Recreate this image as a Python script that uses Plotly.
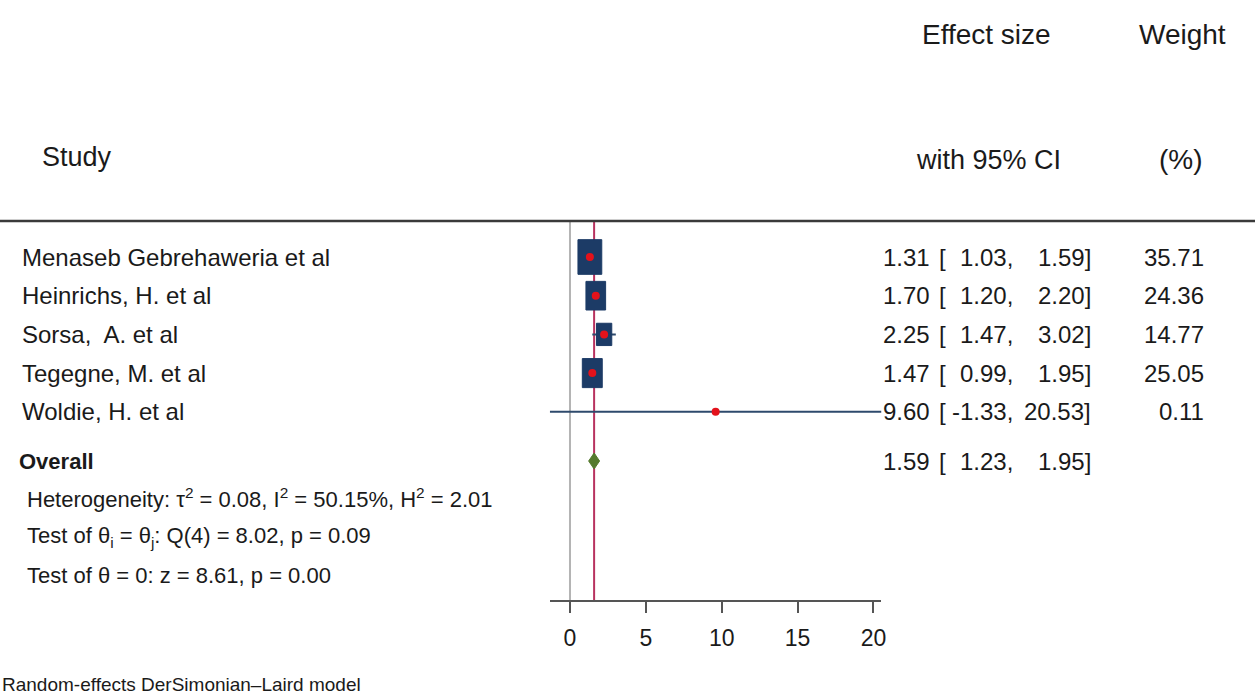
import plotly.graph_objects as go

# ---------------- data ----------------
studies = ["Menaseb Gebrehaweria et al", "Heinrichs, H. et al", "Sorsa,  A. et al",
           "Tegegne, M. et al", "Woldie, H. et al"]
es = [1.31, 1.70, 2.25, 1.47, 9.60]
lo = [1.03, 1.20, 1.47, 0.99, -1.33]
hi = [1.59, 2.20, 3.02, 1.95, 20.53]
weights = [35.71, 24.36, 14.77, 25.05, 0.11]
overall_es, overall_lo, overall_hi = 1.59, 1.23, 1.95
xticks = [0, 5, 10, 15, 20]
het_lines = ["Heterogeneity: τ<sup>2</sup> = 0.08, I<sup>2</sup> = 50.15%, H<sup>2</sup> = 2.01",
             "Test of θ<sub>i</sub> = θ<sub>j</sub>: Q(4) = 8.02, p = 0.09",
             "Test of θ = 0: z = 8.61, p = 0.00"]
note = "Random-effects DerSimonian–Laird model"

# ---------------- layout helpers ----------------
W, H = 1260, 700
FONT = "Liberation Sans, Arial, sans-serif"
TXT = "#1a1a1a"
BODY = 24
HEAD = 28
row_y0, row_dy = 257, 38.7
row_y = [row_y0 + row_dy * i for i in range(len(studies))]
overall_y = 461
axis_y = 600
xmin, xmax = min(lo), max(hi)
px_l, px_r = 552, 885
px_per_unit = (px_r - px_l) / (xmax - xmin)

def px(x):
    return x / W

def py(y):
    return 1 - y / H

fig = go.Figure()

# CI lines
cx, cy = [], []
for l, h, y in zip(lo, hi, row_y):
    cx += [l, h, None]
    cy += [y, y, None]
fig.add_trace(go.Scatter(x=cx, y=cy, mode="lines", line=dict(color="#2e4a6c", width=2),
                         hoverinfo="skip", showlegend=False))

# weight boxes (size ~ sqrt(weight))
bx, by = [], []
for e, w, y in zip(es, weights, row_y):
    hw = 2.0 * w ** 0.5 / px_per_unit
    hh = 2.9 * w ** 0.5
    bx += [e - hw, e + hw, e + hw, e - hw, e - hw, None]
    by += [y - hh, y - hh, y + hh, y + hh, y - hh, None]
fig.add_trace(go.Scatter(x=bx, y=by, mode="lines", fill="toself", fillcolor="#1c3b66",
                         line=dict(color="#1c3b66", width=1), hoverinfo="skip", showlegend=False))

# point estimates
fig.add_trace(go.Scatter(x=es, y=row_y, mode="markers",
                         marker=dict(color="#e3121b", size=8, line=dict(width=0)),
                         showlegend=False))

# overall diamond
dh = 8
fig.add_trace(go.Scatter(x=[overall_lo, overall_es, overall_hi, overall_es, overall_lo],
                         y=[overall_y, overall_y - dh, overall_y, overall_y + dh, overall_y],
                         mode="lines", fill="toself", fillcolor="#557a2e",
                         line=dict(color="#557a2e", width=1), showlegend=False))

# reference lines
fig.add_shape(type="line", xref="x", yref="y", x0=0, x1=0, y0=222, y1=axis_y,
              line=dict(color="#b4b4b4", width=2), layer="below")
fig.add_shape(type="line", xref="x", yref="y", x0=overall_es, x1=overall_es, y0=222, y1=axis_y,
              line=dict(color="#b8325f", width=2), layer="below")
# header rule
fig.add_shape(type="line", xref="paper", yref="paper", x0=0, x1=1, y0=py(221), y1=py(221),
              line=dict(color="#3a3a3a", width=2.5))

ann = []
def add_text(text, x, y, size, anchor="left", bold=False):
    ann.append(dict(text=f"<b>{text}</b>" if bold else text, x=px(x), y=py(y),
                    xref="paper", yref="paper", xanchor=anchor, yanchor="middle",
                    showarrow=False, font=dict(family=FONT, size=size, color=TXT)))

# headers
add_text("Effect size", 990, 34, HEAD, "center")
add_text("Weight", 1187, 34, HEAD, "center")
add_text("Study", 40, 157, 27, "left")
add_text("with 95% CI", 992, 160, 27, "center")
add_text("(%)", 1186, 160, HEAD, "center")

for name, e, l, h, w, y in zip(studies, es, lo, hi, weights, row_y):
    add_text(name, 20, y, BODY, "left")
    add_text(f"{e:.2f}", 936, y, BODY, "right")
    add_text("[", 941, y, BODY, "left")
    add_text(f"{l:.2f},", 1019, y, BODY, "right")
    add_text(f"{h:.2f}]", 1097, y, BODY, "right")
    add_text(f"{w:.2f}", 1211, y, BODY, "right")

add_text("Overall", 17, overall_y, 22, "left", bold=True)
add_text(f"{overall_es:.2f}", 936, overall_y, BODY, "right")
add_text("[", 941, overall_y, BODY, "left")
add_text(f"{overall_lo:.2f},", 1019, overall_y, BODY, "right")
add_text(f"{overall_hi:.2f}]", 1097, overall_y, BODY, "right")

for i, t in enumerate(het_lines):
    add_text(t, 25, 498 + 38.5 * i, 22, "left")

add_text(note, 0, 684, 19, "left")

fig.update_layout(
    width=W, height=H, margin=dict(l=0, r=0, t=0, b=0),
    paper_bgcolor="white", plot_bgcolor="white",
    annotations=ann, showlegend=False,
    xaxis=dict(domain=[px_l / W, px_r / W], range=[xmin, xmax], tickvals=xticks,
               ticktext=[str(t) for t in xticks], showgrid=False, zeroline=False,
               showline=True, linecolor="#555555", linewidth=2,
               ticks="outside", ticklen=11, tickwidth=2, tickcolor="#555555",
               tickfont=dict(family=FONT, size=23, color=TXT), ticklabelstandoff=5),
    yaxis=dict(domain=[1 - axis_y / H, 1], range=[axis_y, 0], visible=False),
)

fig.write_html("out.html")
